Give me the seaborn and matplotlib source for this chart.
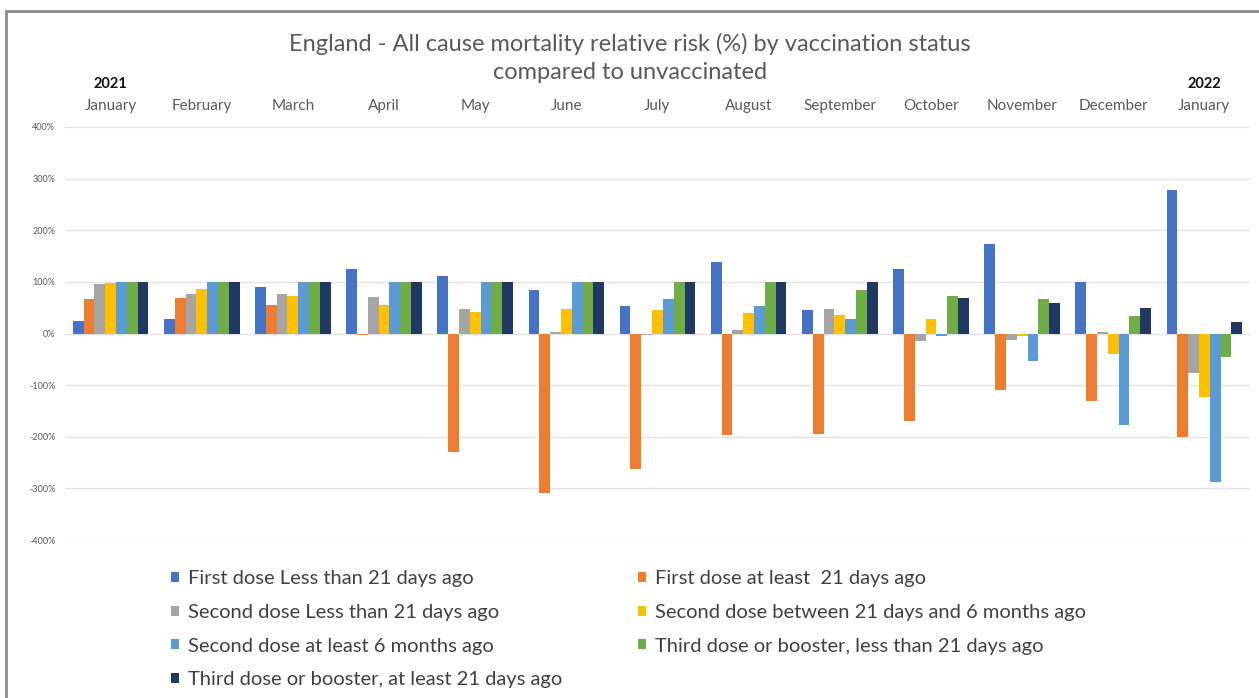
import pandas as pd
import numpy as np
import matplotlib.pyplot as plt
import matplotlib.patches as mpatches
import seaborn as sns

# Months (two Januaries, so keep unique keys for the categorical axis)
month_keys = ["2021-01", "2021-02", "2021-03", "2021-04", "2021-05", "2021-06", "2021-07",
              "2021-08", "2021-09", "2021-10", "2021-11", "2021-12", "2022-01"]
month_labels = ["January", "February", "March", "April", "May", "June", "July",
                "August", "September", "October", "November", "December", "January"]

series_names = [
    "First dose Less than 21 days ago",
    "First dose at least  21 days ago",
    "Second dose Less than 21 days ago",
    "Second dose between 21 days and 6 months ago",
    "Second dose at least 6 months ago",
    "Third dose or booster, less than 21 days ago",
    "Third dose or booster, at least 21 days ago",
]

# Relative risk (%)
first_lt21 = [24, 29, 90, 124, 112, 84, 53, 138, 46, 124, 173, 100, 277]
first_ge21 = [67, 69, 56, -3, -229, -308, -263, -197, -195, -169, -110, -130, -200]
second_lt21 = [95, 77, 76, 71, 48, 3, -3, 6, 48, -15, -13, 3, -77]
second_21d_6m = [97, 86, 73, 56, 42, 48, 45, 39, 35, 28, -4, -39, -123]
second_ge6m = [100, 100, 100, 100, 100, 100, 67, 53, 29, -5, -54, -177, -287]
third_lt21 = [100, 100, 100, 100, 100, 100, 100, 100, 85, 73, 66, 34, -45]
third_ge21 = [100, 100, 100, 100, 100, 100, 100, 100, 100, 68, 59, 50, 23]

colors = ["#4472C4", "#ED7D31", "#A5A5A5", "#FFC000", "#5B9BD5", "#70AD47", "#1F3864"]

all_series = [first_lt21, first_ge21, second_lt21, second_21d_6m,
              second_ge6m, third_lt21, third_ge21]
rows = []
for name, vals in zip(series_names, all_series):
    for m, v in zip(month_keys, vals):
        rows.append({"Month": m, "Status": name, "Risk": v})
df = pd.DataFrame(rows)

sns.set_style("white")
plt.rcParams["font.family"] = ["Lato", "DejaVu Sans"]

fig = plt.figure(figsize=(12.59, 6.98), dpi=100)
W, H = 1259, 698
ax = fig.add_axes([65 / W, 1 - 540 / H, (1250 - 65) / W, (540 - 127) / H])

sns.barplot(data=df, x="Month", y="Risk", hue="Status", order=month_keys,
            hue_order=series_names, palette=colors, width=0.83, gap=0,
            saturation=1, linewidth=0, ax=ax, legend=True)

ax.set_ylim(-400, 400)
ax.set_yticks(np.arange(-400, 401, 100))
ax.set_yticklabels([f"{v}%" for v in range(-400, 401, 100)], fontsize=6.5, color="#595959")
ax.yaxis.grid(True, color="#e3e3e3", linewidth=1)
ax.set_axisbelow(True)
for s in ax.spines.values():
    s.set_visible(False)
ax.tick_params(axis="y", length=0, pad=7)

ax.xaxis.tick_top()
ax.set_xticks(range(len(month_keys)))
ax.set_xticklabels(month_labels, fontsize=11, color="#595959")
ax.tick_params(axis="x", length=0, pad=10)
ax.set_xlabel("")
ax.set_ylabel("")

# year markers above first and last January
ytrans = ax.get_xaxis_transform()
ax.text(0, (540 - 84) / 413, "2021", transform=ytrans, ha="center", va="center",
        fontsize=10.5, fontweight="bold", color="#111111")
ax.text(12, (540 - 84) / 413, "2022", transform=ytrans, ha="center", va="center",
        fontsize=10.5, fontweight="bold", color="#111111")

fig.text(630 / W, 1 - 58 / H,
         "England - All cause mortality relative risk (%) by vaccination status\ncompared to unvaccinated",
         ha="center", va="center", fontsize=17, color="#595959", linespacing=1.4)

# legend, row-wise order in two columns
handles, labels = ax.get_legend_handles_labels()
ax.get_legend().remove()
order = [0, 2, 4, 6, 1, 3, 5]
fig.legend([handles[i] for i in order], [labels[i] for i in order],
           loc="upper left", bbox_to_anchor=(153 / W, 1 - 552 / H), ncol=2,
           frameon=False, fontsize=14.5, labelcolor="#404040",
           handlelength=0.4, handleheight=0.4, handletextpad=0.45,
           columnspacing=3.75, labelspacing=0.83)

# outer chart frame
fig.patches.append(mpatches.Rectangle((6 / W, -0.05), 1.2, 1 - 11 / H + 0.05,
                                      transform=fig.transFigure, fill=False,
                                      edgecolor="#8a8a8a", linewidth=2))

fig.savefig("out.png", dpi=100)
